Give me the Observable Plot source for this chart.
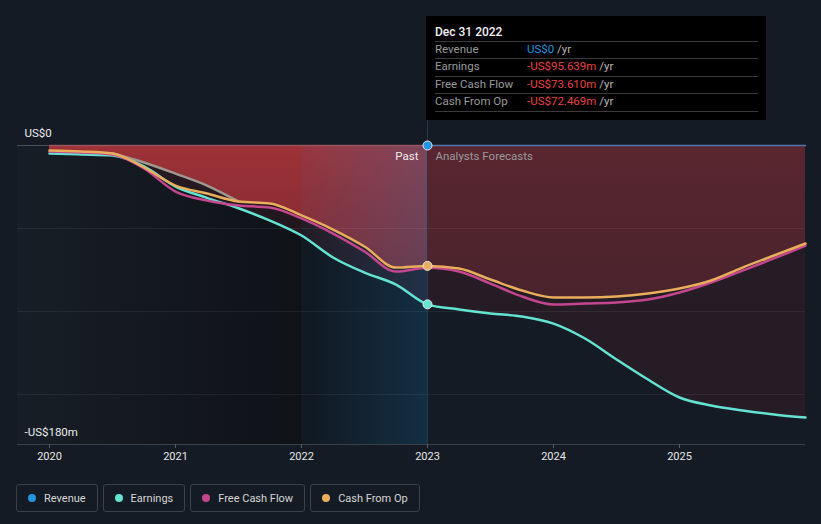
<!DOCTYPE html>
<html>
<head>
<meta charset="utf-8">
<script src="https://cdn.jsdelivr.net/npm/d3@7"></script>
<script src="https://cdn.jsdelivr.net/npm/@observablehq/plot@0.6"></script>
<style>
  html, body { margin: 0; padding: 0; background: #151b24; }
  body { font-family: Roboto, "Noto Sans", "DejaVu Sans", sans-serif; }
  #wrap { position: relative; width: 821px; height: 524px; overflow: hidden; background: #151b24; }
  #chart svg { display: block; }
  #tip { position: absolute; left: 426px; top: 16px; width: 340px; height: 104px; background: #000; box-sizing: border-box; }
  #tip .title { position: absolute; left: 9px; top: 9px; font-size: 12px; font-weight: 500; color: #f2f2f2; }
  #tip .sep { position: absolute; left: 9px; width: 323px; height: 1px; background: #3a3a3a; }
  #tip .lab { position: absolute; left: 9px; font-size: 11.5px; color: #9a9a9a; }
  #tip .val { position: absolute; left: 101px; font-size: 11.5px; }
  #tip .val span.u { color: #b8b8b8; }
  #legend { position: absolute; left: 16px; top: 484px; display: flex; gap: 5px; }
  #legend .item { height: 26px; border: 1px solid #3b404a; border-radius: 3px; display: flex; align-items: center; padding: 0 11px 0 11px; font-size: 11px; color: #d6d6d6; }
  #legend .dot { width: 8px; height: 8px; border-radius: 50%; margin-right: 8px; }
</style>
</head>
<body>
<div id="wrap">
  <div id="chart"></div>
  <div id="tip"></div>
  <div id="legend"></div>
</div>
<script>
// ---- data (US$ millions, fiscal time in decimal years) ----
const xs = [2020.0, 2020.25, 2020.5, 2020.75, 2021.0, 2021.25, 2021.5, 2021.75, 2022.0, 2022.25, 2022.5, 2022.75,
            2023.0, 2023.25, 2023.5, 2023.75, 2024.0, 2024.25, 2024.5, 2024.75, 2025.0, 2025.25, 2025.5, 2025.75, 2026.0];
const revenue  = [0, 0, 0, 0, 0, 0, 0, 0, 0, 0, 0, 0, 0, 0, 0, 0, 0, 0, 0, 0, 0, 0, 0, 0, 0];
const earnings = [-4.8, -5.4, -6.0, -12.6, -24.7, -31.5, -37.8, -45.2, -54.2, -67.4, -76.5, -83.7,
                  -95.639, -98.7, -101.1, -102.9, -107.2, -116.2, -128.8, -140.9, -151.7, -156.5, -159.5, -161.9, -163.8];
const freeCashFlow = [-3.6, -4.2, -5.4, -13.8, -27.7, -33.1, -36.1, -37.3, -43.9, -53.0, -63.8, -75.9,
                      -73.61, -75.9, -83.1, -90.9, -95.7, -95.1, -94.5, -92.7, -88.5, -82.5, -75.3, -68.0, -60.2];
const cashFromOp = [-3.0, -3.6, -4.8, -13.2, -24.1, -28.9, -33.7, -34.9, -42.1, -50.6, -60.8, -73.5,
                    -72.469, -74.1, -80.7, -87.3, -91.5, -91.5, -90.9, -89.1, -86.1, -81.3, -73.5, -66.2, -59.0];
const cashEdge = [null, null, -4.8, -10.2, -16.9, -24.1, -33.7, null, null, null, null, null,
                  null, null, null, null, null, null, null, null, null, null, null, null, null];
const yearTicks = [2020, 2021, 2022, 2023, 2024, 2025];
const yLabels = [{v: 0, label: "US$0"}, {v: -180, label: "-US$180m"}];
const gridValues = [-50, -100, -150];
const pastYear = [2022, 2023];      // highlighted last year of actuals
const nowX = 2023;                   // split between past and forecasts
const tipDate = "Dec 31 2022";
const tipNames  = ["Revenue", "Earnings", "Free Cash Flow", "Cash From Op"];
const tipValues = ["US$0", "-US$95.639m", "-US$73.610m", "-US$72.469m"];
const seriesNames  = ["Revenue", "Earnings", "Free Cash Flow", "Cash From Op"];
const seriesColors = ["#2394df", "#64e3d2", "#c4468e", "#e9ad5c"];

// ---- build table ----
const rows = xs.map((x, i) => ({
  x, revenue: revenue[i], earnings: earnings[i], fcf: freeCashFlow[i], cfo: cashFromOp[i], edge: cashEdge[i]
}));
rows.forEach(r => { r.upper = Math.max(r.cfo, r.fcf, r.edge == null ? -Infinity : r.edge); });
const past = rows.filter(r => r.x <= nowX);
const future = rows.filter(r => r.x >= nowX);
const edgeRows = rows.filter(r => r.edge != null);
const atNow = rows.find(r => r.x === nowX);

const xMin = 2019.746, xMax = 2026;
const curve = "monotone-x";

const chart = Plot.plot({
  width: 821,
  height: 470,
  marginLeft: 17,
  marginRight: 16,
  marginTop: 145,
  marginBottom: 26,
  style: { background: "transparent", color: "#e0e0e0", fontFamily: "Roboto, 'Noto Sans', sans-serif", fontSize: "11px" },
  x: { domain: [xMin, xMax], label: null },
  y: { domain: [-180, 0], axis: null, label: null },
  marks: [
    Plot.rect([{x1: xMin, x2: nowX}], {x1: "x1", x2: "x2", y1: -180, y2: 0, fill: "url(#pastBg)"}),
    Plot.areaY(past, {x: "x", y1: 0, y2: "upper", fill: "url(#redPast)", curve}),
    Plot.areaY(future, {x: "x", y1: 0, y2: "upper", fill: "url(#redFut)", curve}),
    Plot.areaY(rows, {x: "x", y1: "upper", y2: "earnings", fill: "rgb(64,30,41)", fillOpacity: 0.4, curve}),
    Plot.rect([{x1: pastYear[0], x2: pastYear[1]}], {x1: "x1", x2: "x2", y1: -180, y2: 0, fill: "url(#hiBlue)"}),
    Plot.ruleY(gridValues, {stroke: "#ffffff", strokeOpacity: 0.07}),
    Plot.ruleY([0], {stroke: "#4a505b"}),
    Plot.ruleY([-180], {stroke: "#3b414b"}),
    Plot.line(past, {x: "x", y: "revenue", stroke: "#b65a68", strokeOpacity: 0.7, strokeWidth: 1.5}),
    Plot.line(future, {x: "x", y: "revenue", stroke: "#5674ad", strokeWidth: 1.5}),
    Plot.ruleX([nowX], {y1: -180, y2: 15, stroke: "#26384d"}),
    Plot.line(edgeRows, {x: "x", y: "edge", stroke: "#9d978f", strokeWidth: 2.5, curve}),
    Plot.line(rows, {x: "x", y: "earnings", stroke: seriesColors[1], strokeWidth: 2.5, curve}),
    Plot.line(rows, {x: "x", y: "fcf", stroke: seriesColors[2], strokeWidth: 2.5, curve}),
    Plot.line(rows, {x: "x", y: "cfo", stroke: seriesColors[3], strokeWidth: 2.5, curve}),
    Plot.dot([atNow], {x: "x", y: "revenue", r: 4.5, fill: seriesColors[0], stroke: "#e8e8e8", strokeWidth: 1}),
    Plot.dot([atNow], {x: "x", y: "earnings", r: 4.5, fill: seriesColors[1], stroke: "#e8e8e8", strokeWidth: 1}),
    Plot.dot([atNow], {x: "x", y: "cfo", r: 4.5, fill: seriesColors[3], stroke: "#e8e8e8", strokeWidth: 1}),
    Plot.text([atNow], {x: "x", y: "revenue", text: () => "Past", dx: -9, dy: 11, textAnchor: "end", fill: "#ececec", fontSize: 11.5}),
    Plot.text([atNow], {x: "x", y: "revenue", text: () => "Analysts Forecasts", dx: 8, dy: 11, textAnchor: "start", fill: "#9a9a9e", fontSize: 11.5}),
    Plot.text(yLabels, {x: () => xMin, y: "v", text: "label", dx: 7, dy: -12, textAnchor: "start", fill: "#ececec", fontSize: 11.5}),
    Plot.axisX(yearTicks, {tickSize: 4, tickPadding: 4, color: "#e6e6e6", stroke: "#565c67", tickFormat: d => String(d), fontSize: 11, label: null})
  ]
});

document.getElementById("chart").appendChild(chart);

// gradients
const sx = chart.scale("x").apply, sy = chart.scale("y").apply;
const svg = d3.select(chart);
const defs = svg.insert("defs", ":first-child");
function lin(id, x1, y1, x2, y2, stops) {
  const g = defs.append("linearGradient").attr("id", id).attr("gradientUnits", "userSpaceOnUse")
    .attr("x1", x1).attr("y1", y1).attr("x2", x2).attr("y2", y2);
  stops.forEach(([o, c, a]) => g.append("stop").attr("offset", o).attr("stop-color", c).attr("stop-opacity", a == null ? 1 : a));
}
lin("pastBg", sx(xMin), 0, sx(pastYear[0]), 0, [[0, "#181e27"], [1, "#0f1217"]]);
lin("redPast", 0, sy(0), 0, sy(-180), [[0, "#9e3238"], [0.45, "#7a2830"], [1, "#551e26"]]);
lin("redFut", 0, sy(0), 0, sy(-180), [[0, "#5a2630"], [0.5, "#4a232c"], [1, "#3c2029"]]);
lin("hiBlue", sx(pastYear[0]), 0, sx(pastYear[1]), 0, [[0, "#2a86c8", 0.05], [1, "#1f7fc0", 0.26]]);

// tooltip
const tip = document.getElementById("tip");
const tipColors = ["#2394df", "#e8403f", "#e8403f", "#e8403f"];
let html = `<div class="title">${tipDate}</div>`;
const sepY = [25, 42, 60, 77, 95];
sepY.forEach(y => { html += `<div class="sep" style="top:${y}px"></div>`; });
tipNames.forEach((n, i) => {
  const top = sepY[i] + 1;
  html += `<div class="lab" style="top:${top}px">${n}</div>`;
  html += `<div class="val" style="top:${top}px"><span style="color:${tipColors[i]}">${tipValues[i]}</span><span class="u"> /yr</span></div>`;
});
tip.innerHTML = html;

// legend
const legend = document.getElementById("legend");
seriesNames.forEach((n, i) => {
  const item = document.createElement("div");
  item.className = "item";
  item.innerHTML = `<span class="dot" style="background:${seriesColors[i]}"></span><span>${n}</span>`;
  legend.appendChild(item);
});
</script>
</body>
</html>
